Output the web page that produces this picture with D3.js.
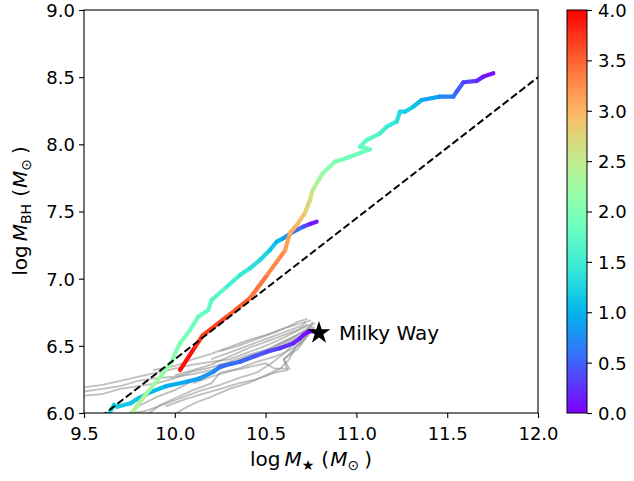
<!DOCTYPE html>
<html><head><meta charset="utf-8">
<script src="https://cdn.jsdelivr.net/npm/d3@7"></script>
<style>body{margin:0;background:#fff}svg{display:block}text{font-family:"DejaVu Sans",sans-serif}</style>
</head><body><svg id="c" width="634" height="481"></svg>
<script>
// ---------- data ----------
const xTicks = [9.5,10.0,10.5,11.0,11.5,12.0];
const yTicks = [6.0,6.5,7.0,7.5,8.0,8.5,9.0];
const cTicks = [0.0,0.5,1.0,1.5,2.0,2.5,3.0,3.5,4.0];

// track A (z 4 -> 0)
const trackA_x = [10.029,10.111,10.155,10.29,10.414,10.51,10.607,10.634,10.673,10.717,10.744,10.76,10.79,10.816,10.882,10.95,11.075,11.02,11.057,11.13,11.167,11.222,11.24,11.268,11.313,11.36,11.46,11.534,11.552,11.589,11.662,11.699,11.754];
const trackA_y = [6.32,6.49,6.58,6.72,6.856,7.03,7.21,7.34,7.40,7.49,7.586,7.66,7.73,7.787,7.871,7.90,7.963,7.982,8.032,8.082,8.131,8.169,8.243,8.243,8.28,8.33,8.355,8.355,8.392,8.462,8.472,8.504,8.529];
const trackA_z = [4.0,3.85,3.75,3.6,3.45,3.35,3.2,3.1,3.0,2.85,2.7,2.55,2.35,2.2,2.0,1.95,1.85,1.8,1.75,1.6,1.5,1.4,1.3,1.25,1.15,1.0,0.8,0.6,0.55,0.4,0.25,0.15,0.0];

// track B (z 2.5 -> 0)
const trackB_x = [9.763,9.845,9.928,9.983,10.01,10.029,10.084,10.129,10.184,10.203,10.286,10.359,10.414,10.469,10.524,10.561,10.597,10.653,10.708,10.744,10.781];
const trackB_y = [6.0,6.147,6.283,6.382,6.469,6.519,6.618,6.717,6.767,6.841,6.94,7.027,7.077,7.139,7.213,7.275,7.30,7.35,7.387,7.407,7.424];
const trackB_z = [2.5,2.35,2.2,2.1,2.05,2.0,1.9,1.85,1.8,1.75,1.6,1.5,1.4,1.3,1.2,1.05,0.95,0.7,0.45,0.25,0.0];

// track C (z 1.25 -> 0)
const trackC_x = [9.64,9.665,9.683,9.757,9.799,9.873,9.955,10.066,10.139,10.212,10.249,10.359,10.432,10.506,10.579,10.653,10.689,10.708,10.735,10.76];
const trackC_y = [6.0,6.06,6.047,6.072,6.109,6.159,6.201,6.233,6.258,6.307,6.345,6.382,6.419,6.456,6.482,6.519,6.556,6.581,6.605,6.61];
const trackC_z = [1.25,1.2,1.18,1.15,1.1,1.05,1.0,0.9,0.85,0.8,0.6,0.55,0.45,0.4,0.3,0.2,0.15,0.1,0.05,0.0];

// grey comparison tracks
const grey1_x = [9.5,9.6,9.7,9.8,9.9,10.0,10.1,10.2,10.3,10.4,10.5,10.6,10.7,10.75];
const grey1_y = [6.19,6.21,6.24,6.27,6.30,6.33,6.36,6.38,6.40,6.45,6.50,6.56,6.63,6.66];
const grey2_x = [9.5,9.6,9.7,9.8,9.9,10.0,10.1,10.2,10.3,10.4,10.5,10.6,10.7,10.76];
const grey2_y = [6.13,6.14,6.18,6.20,6.22,6.26,6.31,6.34,6.38,6.43,6.47,6.53,6.60,6.64];
const grey3_x = [9.75,9.8,9.9,10.0,10.1,10.2,10.3,10.4,10.5,10.6,10.7,10.74];
const grey3_y = [6.0,6.05,6.12,6.17,6.24,6.30,6.36,6.40,6.44,6.50,6.57,6.62];
const grey4_x = [9.86,9.92,10.0,10.1,10.2,10.25,10.35,10.45,10.55,10.62,10.7,10.77];
const grey4_y = [6.0,6.06,6.11,6.17,6.22,6.30,6.33,6.38,6.42,6.46,6.52,6.64];
const grey5_x = [10.01,10.06,10.12,10.2,10.3,10.4,10.5,10.58,10.63,10.67,10.72,10.76];
const grey5_y = [6.0,6.04,6.08,6.12,6.18,6.22,6.28,6.33,6.40,6.50,6.58,6.68];
const grey6_x = [9.88,10.0,10.1,10.2,10.3,10.4,10.5,10.6,10.7,10.75];
const grey6_y = [6.32,6.35,6.40,6.44,6.49,6.54,6.58,6.63,6.67,6.69];
const grey7_x = [10.0,10.1,10.2,10.3,10.4,10.5,10.6,10.68,10.73];
const grey7_y = [6.28,6.32,6.36,6.42,6.48,6.53,6.58,6.62,6.66];
const grey8_x = [10.1,10.2,10.3,10.4,10.5,10.55,10.63,10.6,10.66,10.72,10.75];
const grey8_y = [6.22,6.27,6.31,6.34,6.37,6.33,6.33,6.40,6.48,6.56,6.62];
const grey9_x = [9.95,10.05,10.15,10.25,10.35,10.45,10.55,10.62,10.6,10.68,10.72,10.76];
const grey9_y = [6.05,6.10,6.14,6.18,6.22,6.25,6.30,6.32,6.40,6.48,6.56,6.63];
const grey10_x = [10.2,10.3,10.4,10.5,10.6,10.7,10.72];
const grey10_y = [6.40,6.45,6.50,6.55,6.60,6.65,6.68];
const grey11_x = [9.5,9.6,9.7,9.8,9.9,10.0,10.1,10.2,10.3,10.4,10.5,10.6,10.7,10.74];
const grey11_y = [6.16,6.18,6.20,6.24,6.26,6.27,6.29,6.32,6.36,6.40,6.45,6.52,6.58,6.63];
const grey12_x = [10.1,10.2,10.3,10.4,10.5,10.58,10.66,10.72,10.77];
const grey12_y = [6.25,6.30,6.36,6.42,6.46,6.52,6.57,6.62,6.67];
const grey13_x = [10.25,10.35,10.45,10.55,10.62,10.68,10.73];
const grey13_y = [6.46,6.50,6.55,6.60,6.64,6.68,6.70];
const grey14_x = [9.78,9.85,9.95,10.05,10.15,10.25,10.35,10.45,10.52,10.6,10.66,10.72];
const grey14_y = [6.0,6.02,6.07,6.12,6.17,6.21,6.26,6.30,6.36,6.44,6.52,6.6];

const mwX = 10.794, mwY = 6.596;
// Reines & Volonteri relation
const relA = 7.45, relB = 1.05;

// ---------- drawing ----------
const svg = d3.select("#c");
const L = 84, R = 538, T = 10, B = 413;
const x = d3.scaleLinear().domain([9.5,12.0]).range([L,R]);
const y = d3.scaleLinear().domain([6.0,9.0]).range([B,T]);
const cy = d3.scaleLinear().domain([0,4]).range([B,T]);
const rainbow = z => {
  const t = Math.max(0, Math.min(1, z/4));
  const cl = v => Math.max(0, Math.min(1, v));
  const r = cl(Math.abs(2*t-0.5)), g = cl(Math.sin(Math.PI*t)), b = cl(Math.cos(Math.PI*t/2));
  return d3.rgb(r*255, g*255, b*255).toString();
};

svg.append("clipPath").attr("id","clip").append("rect").attr("x",L).attr("y",T).attr("width",R-L).attr("height",B-T);
const plot = svg.append("g").attr("clip-path","url(#clip)");

const greys = [[grey1_x,grey1_y],[grey2_x,grey2_y],[grey3_x,grey3_y],[grey4_x,grey4_y],[grey5_x,grey5_y],[grey6_x,grey6_y],[grey7_x,grey7_y],[grey8_x,grey8_y],[grey9_x,grey9_y],[grey10_x,grey10_y],[grey11_x,grey11_y],[grey12_x,grey12_y],[grey13_x,grey13_y],[grey14_x,grey14_y]];
const line = d3.line().x(d=>x(d[0])).y(d=>y(d[1]));
greys.forEach(([gx,gy]) => {
  plot.append("path").attr("d", line(gx.map((v,i)=>[v,gy[i]])))
    .attr("fill","none").attr("stroke","#959595").attr("stroke-opacity",0.6).attr("stroke-width",1.8);
});

[[trackC_x,trackC_y,trackC_z],[trackB_x,trackB_y,trackB_z],[trackA_x,trackA_y,trackA_z]].forEach(([tx,ty,tz]) => {
  for (let i=0;i<tx.length-1;i++){
    plot.append("line").attr("x1",x(tx[i])).attr("y1",y(ty[i])).attr("x2",x(tx[i+1])).attr("y2",y(ty[i+1]))
      .attr("stroke", rainbow((tz[i]+tz[i+1])/2)).attr("stroke-width",4.2).attr("stroke-linecap","round");
  }
});

// relation line
plot.append("line").attr("x1",x(9.5)).attr("y1",y(relA+relB*(9.5-11))).attr("x2",x(12)).attr("y2",y(relA+relB*(12-11)))
  .attr("stroke","#000").attr("stroke-width",2).attr("stroke-dasharray","7.4,3.2");

// Milky Way star
const r0 = 12, r1 = r0*0.381966;
const pts = d3.range(10).map(i => { const a = -Math.PI/2 + i*Math.PI/5; const r = i%2 ? r1 : r0; return [x(mwX)+r*Math.cos(a), y(mwY)+r*Math.sin(a)]; });
svg.append("polygon").attr("points", pts.map(p=>p.join(",")).join(" ")).attr("fill","#000");
svg.append("text").attr("x", x(mwX)+20).attr("y", y(mwY)+7).attr("font-size",20).text("Milky Way");

// frame
svg.append("rect").attr("x",L).attr("y",T).attr("width",R-L).attr("height",B-T).attr("fill","none").attr("stroke","#000").attr("stroke-width",1.1);

// axes
const fs = 18;
const gx = svg.append("g").attr("transform",`translate(0,${B})`)
  .call(d3.axisBottom(x).tickValues(xTicks).tickFormat(d3.format(".1f")).tickSize(5).tickPadding(4));
gx.select(".domain").remove();
gx.selectAll("line").attr("stroke","#000").attr("stroke-width",1.1);
gx.selectAll("text").attr("font-size",fs).attr("fill","#000").attr("font-family","DejaVu Sans").attr("y",27).attr("dy",0);

const gy = svg.append("g").attr("transform",`translate(${L},0)`)
  .call(d3.axisLeft(y).tickValues(yTicks).tickFormat(d3.format(".1f")).tickSize(5).tickPadding(4));
gy.select(".domain").remove();
gy.selectAll("line").attr("stroke","#000").attr("stroke-width",1.1);
gy.selectAll("text").attr("font-size",fs).attr("fill","#000").attr("font-family","DejaVu Sans").attr("dy","0.36em").attr("x",-9);

// axis labels
const lfs = 20;
function mathLabel(sel, sub) {
  sel.append("tspan").text("log");
  sel.append("tspan").attr("dx",4).attr("font-style","italic").text("M");
  sel.append("tspan").attr("font-size",lfs*0.7).attr("dy",4).text(sub);
  sel.append("tspan").attr("dx",7).attr("dy",-4).text("(");
  sel.append("tspan").attr("dx",1).attr("font-style","italic").text("M");
  sel.append("tspan").attr("font-size",lfs*0.7).attr("dy",4).text("\u2299");
  sel.append("tspan").attr("dx",5).attr("dy",-4).text(")");
}
const xl = svg.append("text").attr("x",(L+R)/2).attr("y",466).attr("text-anchor","middle").attr("font-size",lfs);
mathLabel(xl, "\u2605");
const yl = svg.append("text").attr("transform","translate(27,211) rotate(-90)").attr("text-anchor","middle").attr("font-size",lfs);
mathLabel(yl, "BH");

// colorbar
const CL = 567, CR = 587;
const grad = svg.append("defs").append("linearGradient").attr("id","cg").attr("x1",0).attr("y1",1).attr("x2",0).attr("y2",0);
d3.range(0,1.0001,0.02).forEach(t => grad.append("stop").attr("offset",t).attr("stop-color",rainbow(t*4)));
svg.append("rect").attr("x",CL).attr("y",T).attr("width",CR-CL).attr("height",B-T).attr("fill","url(#cg)").attr("stroke","#000").attr("stroke-width",1);
const gc = svg.append("g").attr("transform",`translate(${CR},0)`)
  .call(d3.axisRight(cy).tickValues(cTicks).tickFormat(d3.format(".1f")).tickSize(5).tickPadding(6));
gc.select(".domain").remove();
gc.selectAll("line").attr("stroke","#000").attr("stroke-width",1.1);
gc.selectAll("text").attr("font-size",fs).attr("fill","#000").attr("font-family","DejaVu Sans").attr("dy","0.36em");
</script></body></html>
